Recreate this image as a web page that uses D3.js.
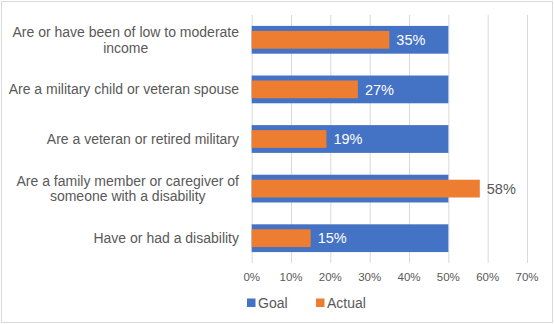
<!DOCTYPE html>
<html>
<head>
<meta charset="utf-8">
<script src="https://cdn.jsdelivr.net/npm/d3@7"></script>
<style>
  body { margin: 0; background: #fff; }
  text { font-family: "Liberation Sans", Arial, sans-serif; }
</style>
</head>
<body>
<svg id="chart" width="554" height="324"></svg>
<script>
// data
const categories = [
  ["Are or have been of low to moderate", "income"],
  ["Are a military child or veteran spouse"],
  ["Are a veteran or retired military"],
  ["Are a family member or caregiver of", "someone with a disability"],
  ["Have or had a disability"]
];
const goal = [50, 50, 50, 50, 50];
const actual = [35, 27, 19, 58, 15];
const ticks = [0, 10, 20, 30, 40, 50, 60, 70];
const seriesNames = ["Goal", "Actual"];

const colors = { goal: "#4472C4", actual: "#ED7D31", grid: "#D9D9D9", text: "#595959" };

const svg = d3.select("#chart");
const margin = { left: 251.7, right: 27, top: 15, bottom: 61 };
const width = 554, height = 324;
const labelRight = 239;

// outer border
svg.append("rect")
  .attr("x", 1.5).attr("y", 1.5)
  .attr("width", width - 3).attr("height", height - 3)
  .attr("fill", "#fff").attr("stroke", colors.grid);

const x = d3.scaleLinear().domain([0, 70]).range([margin.left, width - margin.right]);
const y = d3.scaleBand()
  .domain(d3.range(categories.length))
  .range([margin.top, height - margin.bottom])
  .paddingInner(0.44).paddingOuter(0.22);

// gridlines
svg.append("g")
  .selectAll("line")
  .data(ticks)
  .join("line")
  .attr("x1", d => x(d) + 0.5).attr("x2", d => x(d) + 0.5)
  .attr("y1", margin.top).attr("y2", height - margin.bottom)
  .attr("stroke", colors.grid).attr("stroke-width", 1);

// goal bars
svg.append("g")
  .selectAll("rect")
  .data(goal)
  .join("rect")
  .attr("x", x(0))
  .attr("y", (d, i) => y(i))
  .attr("width", d => x(d) - x(0))
  .attr("height", y.bandwidth())
  .attr("fill", colors.goal);

// actual bars, thinner, centred on goal
const inner = y.bandwidth() * 0.64;
svg.append("g")
  .selectAll("rect")
  .data(actual)
  .join("rect")
  .attr("x", x(0))
  .attr("y", (d, i) => y(i) + (y.bandwidth() - inner) / 2)
  .attr("width", d => x(d) - x(0))
  .attr("height", inner)
  .attr("fill", colors.actual);

// data labels
svg.append("g")
  .selectAll("text")
  .data(actual)
  .join("text")
  .attr("x", d => x(d) + 7)
  .attr("y", (d, i) => y(i) + y.bandwidth() / 2)
  .attr("dy", "0.36em")
  .attr("font-size", 14.5)
  .attr("fill", (d, i) => d < goal[i] ? "#fff" : colors.text)
  .text(d => d + "%");

// category labels - wrapped lines are centred within a right-aligned block
const cat = svg.append("g")
  .selectAll("text")
  .data(categories)
  .join("text")
  .attr("text-anchor", "middle")
  .attr("font-size", 14)
  .attr("fill", colors.text)
  .attr("y", (d, i) => y(i) + y.bandwidth() / 2);
cat.selectAll("tspan")
  .data(d => d.map((t, k) => ({ t, k, n: d.length })))
  .join("tspan")
  .attr("dy", d => d.k === 0 ? (0.36 - (d.n - 1) * 0.56) + "em" : "1.12em")
  .text(d => d.t);
cat.each(function() {
  const spans = d3.select(this).selectAll("tspan");
  let w = 0;
  spans.each(function() { w = Math.max(w, this.getComputedTextLength()); });
  spans.attr("x", labelRight - w / 2);
});

// x axis tick labels
svg.append("g")
  .selectAll("text")
  .data(ticks)
  .join("text")
  .attr("x", d => x(d))
  .attr("y", 277)
  .attr("dy", "0.35em")
  .attr("text-anchor", "middle")
  .attr("font-size", 11.5)
  .attr("fill", colors.text)
  .text(d => d + "%");

// legend
const legendX = [247, 316];
const lg = svg.append("g")
  .selectAll("g")
  .data(seriesNames)
  .join("g")
  .attr("transform", (d, i) => `translate(${legendX[i]},303)`);
lg.append("rect")
  .attr("x", 0).attr("y", -4.5)
  .attr("width", 8.5).attr("height", 8.5)
  .attr("fill", (d, i) => i === 0 ? colors.goal : colors.actual);
lg.append("text")
  .attr("x", 11)
  .attr("dy", "0.36em")
  .attr("font-size", 14)
  .attr("fill", colors.text)
  .text(d => d);
</script>
</body>
</html>
